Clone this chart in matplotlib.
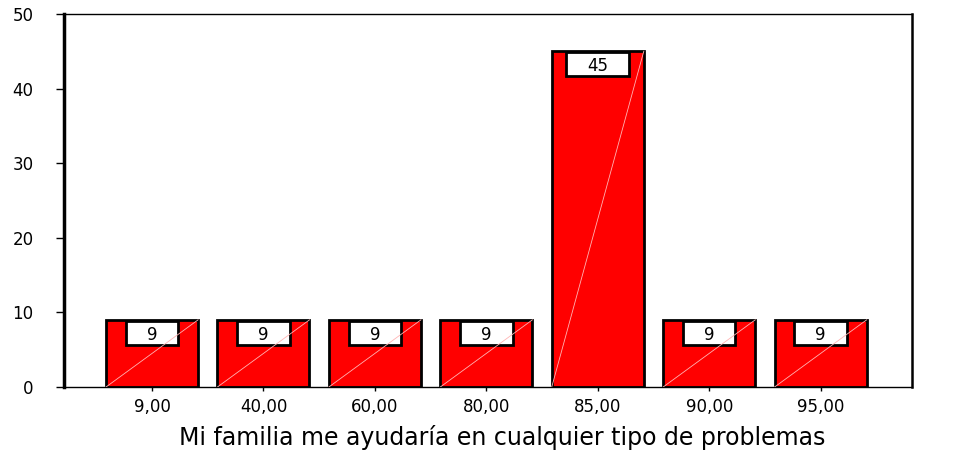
import matplotlib
matplotlib.use("Agg")
import matplotlib.pyplot as plt
from matplotlib.patches import Rectangle
import numpy as np

categories = ["9,00", "40,00", "60,00", "80,00", "85,00", "90,00", "95,00"]
values = [9, 9, 9, 9, 45, 9, 9]
yticks = [0, 10, 20, 30, 40, 50]
xlabel = "Mi familia me ayudaría en cualquier tipo de problemas"

plt.rcParams['font.family'] = ['DejaVu Sans']

fig = plt.figure(figsize=(9.73, 4.53), dpi=100)
ax = fig.add_axes([64/973, 1-387/453, (912-64)/973, (387-14)/453])

x = np.arange(len(categories))
w = 0.826
ax.bar(x, values, width=w, color='#ff0000', edgecolor='black', linewidth=2, zorder=2)

texts = []
for xi, v in zip(x, values):
    t = ax.annotate(str(v), xy=(xi, v), xytext=(0, -13), textcoords='offset pixels',
                    ha='center', va='center_baseline', fontsize=12, zorder=6)
    texts.append(t)

ax.set_xlim(-0.79, 6.82)
ax.set_ylim(0, 50)
ax.set_yticks(yticks)
ax.set_yticklabels([str(t) for t in yticks], fontsize=12)
ax.set_xticks(x)
ax.set_xticklabels(categories, fontsize=12)
ax.tick_params(axis='y', direction='out', length=6, width=1, pad=16)
ax.tick_params(axis='x', direction='out', length=3, width=1, pad=5)
ax.spines['left'].set_linewidth(2.5)
ax.spines['right'].set_linewidth(1.8)
for s in ['top', 'bottom']:
    ax.spines[s].set_linewidth(1)
fig.text(502/973, 1 - 437/453, xlabel, ha='center', va='center', fontsize=17)

# label boxes sized from the measured text
fig.canvas.draw()
renderer = fig.canvas.get_renderer()
inv = ax.transData.inverted()
for xi, v, t in zip(x, values, texts):
    bb = t.get_window_extent(renderer)
    cx = (bb.x0 + bb.x1) / 2
    half = (bb.x1 - bb.x0) / 2 + 21
    top_disp = ax.transData.transform((xi, v))[1] - 1
    (x0, y0) = inv.transform((cx - half, top_disp - 24))
    (x1, y1) = inv.transform((cx + half, top_disp))
    ax.add_patch(Rectangle((x0, y0), x1 - x0, y1 - y0, facecolor='white',
                           edgecolor='black', linewidth=2, zorder=4))
    ax.plot([xi - w/2, xi + w/2], [0, v], color='#ffb4b4', linewidth=0.6, zorder=5)

fig.savefig("out.png", dpi=100)
